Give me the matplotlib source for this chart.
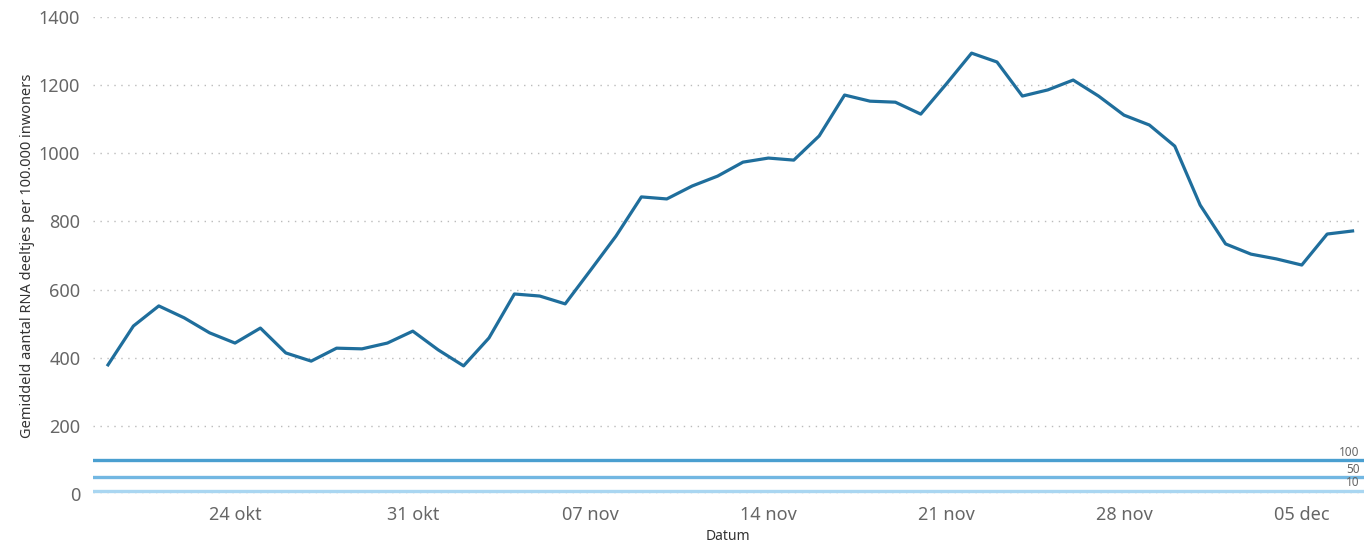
import matplotlib.pyplot as plt
import matplotlib.dates as mdates
import numpy as np
import pandas as pd

# daily averages, 19 okt - 7 dec
dates = pd.date_range('2020-10-19', '2020-12-07', freq='D')
values = [379, 493, 552, 517, 473, 443, 487, 414, 390, 428,
          426, 443, 478, 423, 376, 458, 587, 581, 558, 657,
          757, 872, 866, 904, 933, 974, 986, 980, 1051, 1171,
          1153, 1150, 1115, 1203, 1294, 1268, 1168, 1186, 1215, 1168,
          1112, 1083, 1021, 848, 734, 704, 690, 672, 763, 772]

ref_levels = [100, 50, 10]
ref_colors = ['#4a9fd0', '#72b7e2', '#a9d6f1']

tick_dates = pd.to_datetime(['2020-10-24', '2020-10-31', '2020-11-07', '2020-11-14',
                             '2020-11-21', '2020-11-28', '2020-12-05'])
tick_labels = ['24 okt', '31 okt', '07 nov', '14 nov', '21 nov', '28 nov', '05 dec']

plt.rcParams['font.family'] = ['Noto Sans', 'DejaVu Sans']

fig = plt.figure(figsize=(13.64, 5.42), dpi=100)
ax = fig.add_axes([0.068, 0.0886, 0.932, 0.880])

# reference lines with small labels at the right edge
for level, col in zip(ref_levels, ref_colors):
    ax.axhline(level, color=col, lw=2.4, zorder=2)
    ax.annotate(str(level), xy=(1.0, level), xycoords=('axes fraction', 'data'),
                xytext=(-3, 1), textcoords='offset points', ha='right', va='bottom',
                fontsize=8.5, color='#666666')

ax.plot(dates, values, color='#1f6e9c', lw=2.3, zorder=3)

ax.set_ylim(0, 1400)
ax.set_yticks(range(0, 1401, 200))
ax.set_xlim(dates[0] - pd.Timedelta(days=0.6), dates[-1] + pd.Timedelta(days=0.45))
ax.set_xticks(tick_dates)
ax.set_xticklabels(tick_labels)

ax.grid(axis='y', linestyle=(0, (1, 4)), color='#bbbbbb', lw=1.0, zorder=1)
ax.tick_params(length=0, labelsize=13, labelcolor='#666666', pad=9)
ax.tick_params(axis='x', pad=9)
for s in ax.spines.values():
    s.set_visible(False)

ax.set_ylabel('Gemiddeld aantal RNA deeltjes per 100.000 inwoners', fontsize=10.5, color='#333333', labelpad=3)
ax.set_xlabel('Datum', fontsize=10, color='#333333', labelpad=3)

fig.savefig('out.png', dpi=100, facecolor='white')
